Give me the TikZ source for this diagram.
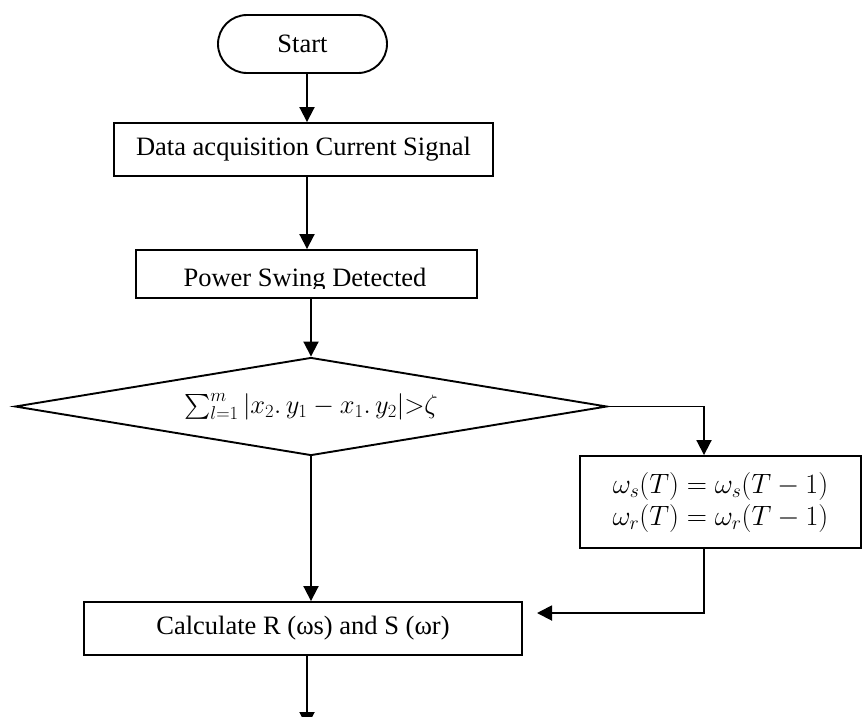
\RequirePackage{fix-cm}
\documentclass[tikz,border=0pt]{standalone}
\usepackage{amsmath}
\usepackage{fontspec}
\setmainfont{Liberation Serif}
\usetikzlibrary{arrows.meta,shapes.geometric}
\begin{document}
\begin{tikzpicture}[x=1pt,y=-1pt,
  every node/.style={font=\fontsize{26.5}{31}\selectfont},
  box/.style={draw, line width=1.9pt, inner sep=0pt},
  arr/.style={line width=1.9pt, -{Triangle[length=15pt,width=15pt]}}]
\useasboundingbox[fill=white] (0,0) rectangle (862,716);
% nodes
\node[box, rounded corners=29pt, minimum width=169pt, minimum height=58pt] (start) at (302.5,44) {Start};
\node[box, minimum width=379pt, minimum height=53pt] (data) at (303.5,149.5) {Data acquisition Current Signal};
\node[box, minimum width=341pt, minimum height=48pt] (power) at (306.5,274) {};
\begin{scope}
  \clip (136,250) rectangle (477,288);
  \node[anchor=base, inner sep=0pt] (ptext) at (305,286) {Power Swing Detected};
\end{scope}
\node[box, diamond, aspect=6, minimum width=592pt, minimum height=98pt] (dec) at (311,406.5)
  {$\textstyle\sum_{l=1}^{m}|x_2.\,y_1-x_1.\,y_2|{>}\zeta$};
\node[box, minimum width=281pt, minimum height=92pt, align=center, font=\fontsize{28}{32}\selectfont] (omega) at (720.5,502)
  {$\omega_s(T)=\omega_s(T-1)$\\$\omega_r(T)=\omega_r(T-1)$};
\node[box, minimum width=438pt, minimum height=53pt] (calc) at (303,628.5) {Calculate R (ωs) and S (ωr)};
% helper coordinates
\coordinate (col) at (307,0);
\coordinate (rcol) at (704,0);
\coordinate (fb) at (537,613);
\coordinate (endpt) at (307,727);
% connectors
\draw[arr] (start.south -| col) -- (data.north -| col);
\draw[arr] (data.south -| col) -- (power.north -| col);
\draw[arr] (power.south -| dec.north) -- (dec.north);
\draw[arr] (dec.south) -- (dec.south |- calc.north);
\draw[arr] (dec.east) -| (omega.north -| rcol);
\draw[arr] (omega.south -| rcol) |- (fb);
\draw[arr] (calc.south -| col) -- (endpt);
\end{tikzpicture}
\end{document}
